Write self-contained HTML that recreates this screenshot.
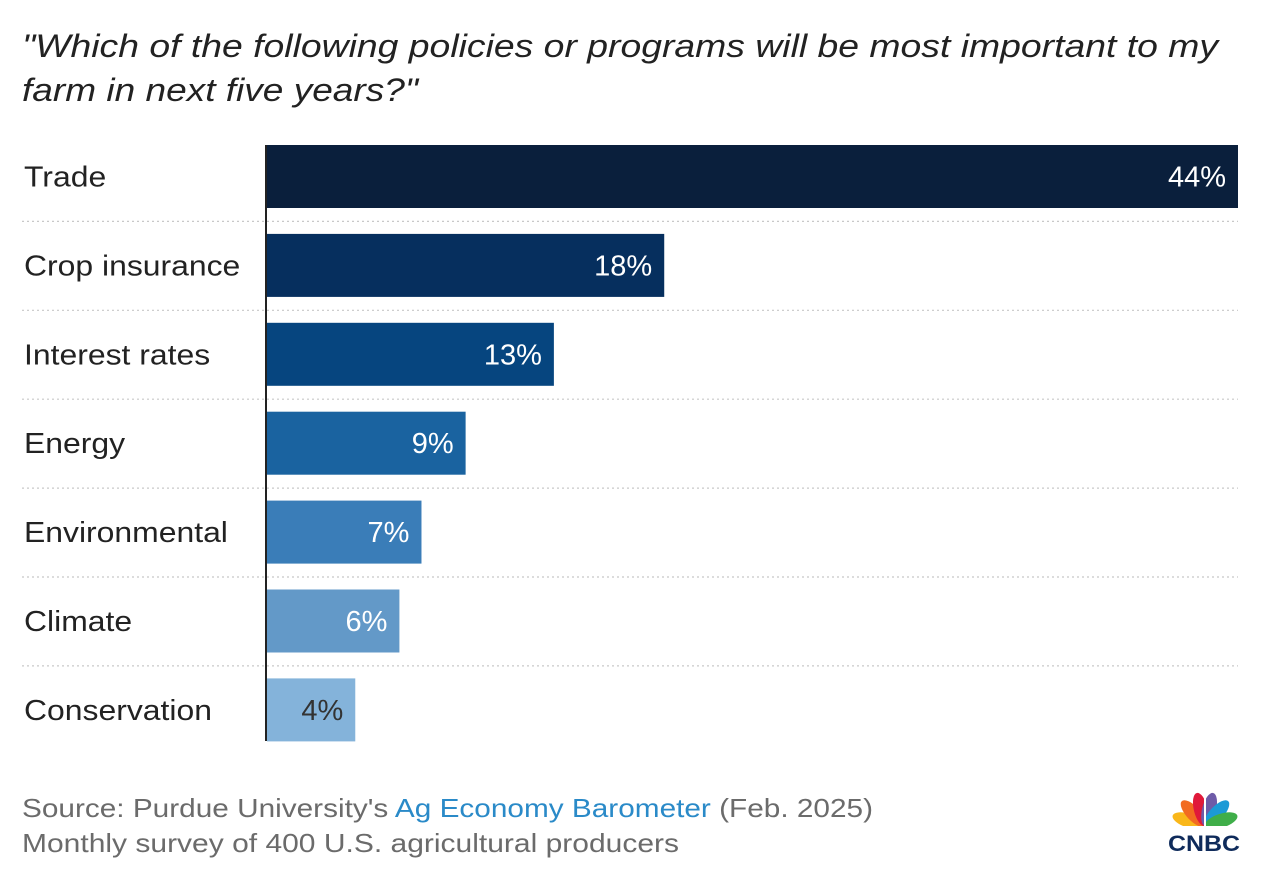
<!DOCTYPE html>
<html><head><meta charset="utf-8"><style>
body{margin:0;background:#fff;width:1270px;height:878px;overflow:hidden;font-family:"Liberation Sans",sans-serif}
</style></head><body>
<svg width="1270" height="878" xmlns="http://www.w3.org/2000/svg">
<text x="22" y="57" font-size="32" font-style="italic" fill="#222" textLength="1196" lengthAdjust="spacingAndGlyphs">"Which of the following policies or programs will be most important to my</text>
<text x="22" y="101" font-size="32" font-style="italic" fill="#222" textLength="396" lengthAdjust="spacingAndGlyphs">farm in next five years?"</text>
<g id="plot"></g>
<text x="22" y="817" font-size="26" fill="#6b6b6b" textLength="851" lengthAdjust="spacingAndGlyphs">Source: Purdue University's <tspan fill="#2a8ac8">Ag Economy Barometer</tspan> (Feb. 2025)</text>
<text x="22" y="852" font-size="26" fill="#6b6b6b" textLength="657" lengthAdjust="spacingAndGlyphs">Monthly survey of 400 U.S. agricultural producers</text>
<g>
<ellipse cx="1205" cy="809" rx="7" ry="17" transform="rotate(-72 1205 826)" fill="#f9b71a"/>
<ellipse cx="1205" cy="809" rx="7" ry="17" transform="rotate(-43 1205 826)" fill="#f26b21"/>
<ellipse cx="1205" cy="809" rx="7" ry="17" transform="rotate(-14 1205 826)" fill="#e0193a"/>
<ellipse cx="1205" cy="809" rx="7" ry="17" transform="rotate(14 1205 826)" fill="#6e5ba8"/>
<ellipse cx="1205" cy="809" rx="7" ry="17" transform="rotate(43 1205 826)" fill="#1b9ad6"/>
<ellipse cx="1205" cy="809" rx="7" ry="17" transform="rotate(72 1205 826)" fill="#3fae49"/>
<line x1="1205" y1="826" x2="1205" y2="790" stroke="#fff" stroke-width="2"/>
<rect x="1165" y="826" width="80" height="14" fill="#fff"/>
<text x="1204" y="851" font-size="22" font-weight="bold" fill="#0f2b5b" text-anchor="middle" textLength="72" lengthAdjust="spacingAndGlyphs">CNBC</text>
</g>
</svg>
<script>
const categories=["Trade","Crop insurance","Interest rates","Energy","Environmental","Climate","Conservation"];
const values=[44,18,13,9,7,6,4];
const colors=["#0a1f3c","#062f5e","#06457f","#1a63a0","#3a7db8","#6399c8","#84b3da"];
const NS="http://www.w3.org/2000/svg";
const g=document.getElementById("plot");
const x0=267,x1=1238,maxV=44,top0=145,pitch=88.9,bh=63;
const xs=v=>x0+(x1-x0)*v/maxV;
function mk(t,a){const e=document.createElementNS(NS,t);for(const k in a)e.setAttribute(k,a[k]);g.appendChild(e);return e;}
categories.forEach((c,i)=>{
  const y=top0+i*pitch;
  if(i>0){const l=mk("line",{x1:22,x2:1238,y1:y-12.5,y2:y-12.5,stroke:"#c8c8c8","stroke-width":1.2,"stroke-dasharray":"2 3"});
  
  }
  const r=mk("rect",{x:x0,y:y,width:xs(values[i])-x0,height:bh,fill:colors[i]});
  
  
  const lb=mk("text",{x:24,y:y+bh/2+10,"font-size":29,fill:"#222"});lb.textContent=c;
  
  
  lb.setAttribute('textLength',(lb.getComputedTextLength()*1.1).toFixed(1));
  lb.setAttribute('lengthAdjust','spacingAndGlyphs');
  const vl=mk("text",{x:xs(values[i])-12,y:y+bh/2+10,"font-size":29,fill:i==6?"#333":"#fff","text-anchor":"end"});vl.textContent=values[i]+"%";
  
  
});
const ax=mk("line",{x1:266,x2:266,y1:top0,y2:741,stroke:"#222","stroke-width":2});


</script>
</body></html>
